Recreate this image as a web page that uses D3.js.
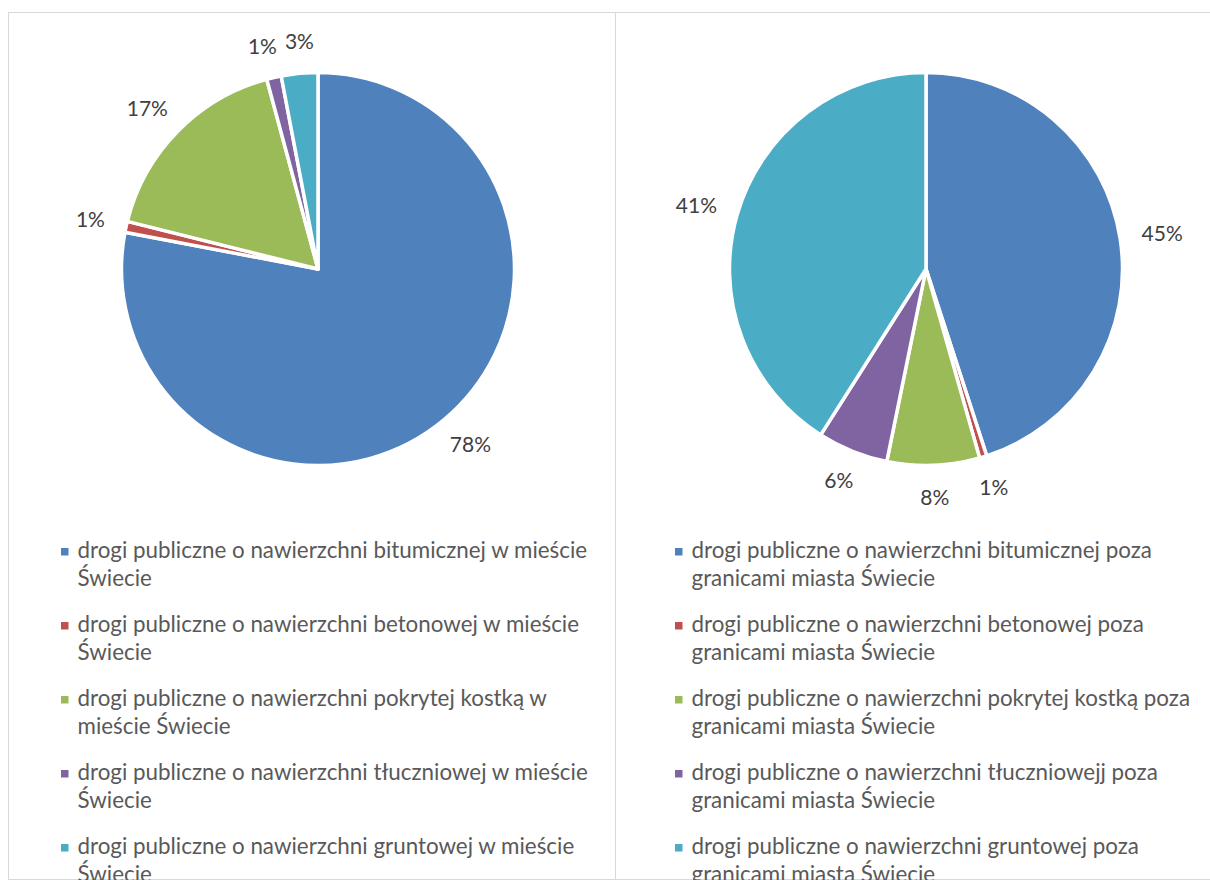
<!DOCTYPE html>
<html>
<head>
<meta charset="utf-8">
<script src="https://cdn.jsdelivr.net/npm/d3@7"></script>
<style>
  body { margin: 0; background: #fff; }
  svg { display: block; }
</style>
</head>
<body>
<svg id="chart" width="1210" height="880"></svg>
<script>
// Slice colours (Office theme), shared by both pies
const colors = ['#4F81BD', '#C0504D', '#9BBB59', '#8064A2', '#4BACC6'];

// Left pie: roads inside the town
const cityLabels = [
  'drogi publiczne o nawierzchni bitumicznej w mieście Świecie',
  'drogi publiczne o nawierzchni betonowej w mieście Świecie',
  'drogi publiczne o nawierzchni pokrytej kostką w mieście Świecie',
  'drogi publiczne o nawierzchni tłuczniowej w mieście Świecie',
  'drogi publiczne o nawierzchni gruntowej w mieście Świecie'
];
const cityValues = [78.0, 0.9, 16.9, 1.2, 3.0];

// Right pie: roads outside the town
const outsideLabels = [
  'drogi publiczne o nawierzchni bitumicznej poza granicami miasta Świecie',
  'drogi publiczne o nawierzchni betonowej poza granicami miasta Świecie',
  'drogi publiczne o nawierzchni pokrytej kostką poza granicami miasta Świecie',
  'drogi publiczne o nawierzchni tłuczniowejj poza granicami miasta Świecie',
  'drogi publiczne o nawierzchni gruntowej poza granicami miasta Świecie'
];
const outsideValues = [45.0, 0.6, 7.6, 5.8, 41.0];

const svg = d3.select('#chart');
const font = 'Lato, "Open Sans", sans-serif';
const radius = 196.5;
const labelSize = 21;

// Measure text width at a given size
const probe = svg.append('text').attr('font-family', font).attr('visibility', 'hidden');
function textWidth(str, size) {
  probe.attr('font-size', size).text(str);
  return probe.node().getComputedTextLength();
}

// Pick legend size so the longest first line matches the picture
const legendSize = 20 * 510 / textWidth('drogi publiczne o nawierzchni bitumicznej w mieście', 20);

function wrap(str, maxWidth) {
  let lines = [];
  let line = '';
  for (let word of str.split(' ')) {
    let test = line ? line + ' ' + word : word;
    if (line && textWidth(test, legendSize) > maxWidth) {
      lines.push(line);
      line = word;
    } else {
      line = test;
    }
  }
  lines.push(line);
  return lines;
}

// Outside-end label: box corner sits a fixed gap past the rim
function labelPos(d) {
  let a = (d.startAngle + d.endAngle) / 2;
  let w = textWidth(Math.round(d.data) + '%', labelSize);
  let h = 20;
  let rr = radius + 22;
  return {
    x: rr * Math.sin(a) + Math.sin(a) * w / 2,
    y: -rr * Math.cos(a) - Math.cos(a) * h / 2,
    w: w
  };
}

// Push apart labels that sit too close side by side
function spread(pos) {
  for (let k = 0; k < 5; k++) {
    for (let i = 0; i < pos.length; i++) {
      for (let j = i + 1; j < pos.length; j++) {
        let a = pos[i], b = pos[j];
        let need = (a.w + b.w) / 2 + 8;
        let dx = b.x - a.x;
        if (Math.abs(a.y - b.y) < 20 && Math.abs(dx) < need) {
          let push = (need - Math.abs(dx)) / 2 * Math.sign(dx || 1);
          a.x -= push;
          b.x += push;
        }
      }
    }
  }
  return pos;
}

const panels = [
  {x0: 8.5, x1: 615.5, cx: 318, legendX: 61, values: cityValues, labels: cityLabels},
  {x0: 615.5, x1: 1260, cx: 926, legendX: 675, values: outsideValues, labels: outsideLabels}
];

const pie = d3.pie().sort(null).value(d => d);
const arc = d3.arc().innerRadius(0).outerRadius(radius);

for (let p of panels) {
  // Frame
  svg.append('rect')
    .attr('x', p.x0)
    .attr('y', 12.5)
    .attr('width', p.x1 - p.x0)
    .attr('height', 867)
    .attr('fill', 'none')
    .attr('stroke', '#D9D9D9')
    .attr('stroke-width', 1);

  let g = svg.append('g').attr('transform', 'translate(' + p.cx + ',269)');
  let arcs = pie(p.values);

  g.selectAll('path')
    .data(arcs)
    .join('path')
    .attr('d', arc)
    .attr('fill', (d, i) => colors[i])
    .attr('stroke', '#fff')
    .attr('stroke-width', 3.5)
    .attr('stroke-linejoin', 'round');

  let pos = spread(arcs.map(labelPos));

  g.selectAll('text')
    .data(arcs)
    .join('text')
    .attr('x', (d, i) => pos[i].x)
    .attr('y', (d, i) => pos[i].y)
    .attr('text-anchor', 'middle')
    .attr('dy', '0.35em')
    .attr('font-family', font)
    .attr('font-size', labelSize)
    .attr('fill', '#404040')
    .text(d => Math.round(d.data) + '%');

  // Legend
  let leg = svg.append('g');
  p.labels.forEach((label, i) => {
    let y = 558 + i * 74;
    leg.append('rect')
      .attr('x', p.legendX)
      .attr('y', y - 10)
      .attr('width', 7.5)
      .attr('height', 7.5)
      .attr('fill', colors[i]);
    let t = leg.append('text')
      .attr('x', p.legendX + 16.5)
      .attr('y', y)
      .attr('font-family', font)
      .attr('font-size', legendSize)
      .attr('fill', '#595959');
    wrap(label, 525).forEach((line, j) => {
      t.append('tspan')
        .attr('x', p.legendX + 16.5)
        .attr('y', y + j * 28)
        .text(line);
    });
  });
}
probe.remove();
</script>
</body>
</html>
